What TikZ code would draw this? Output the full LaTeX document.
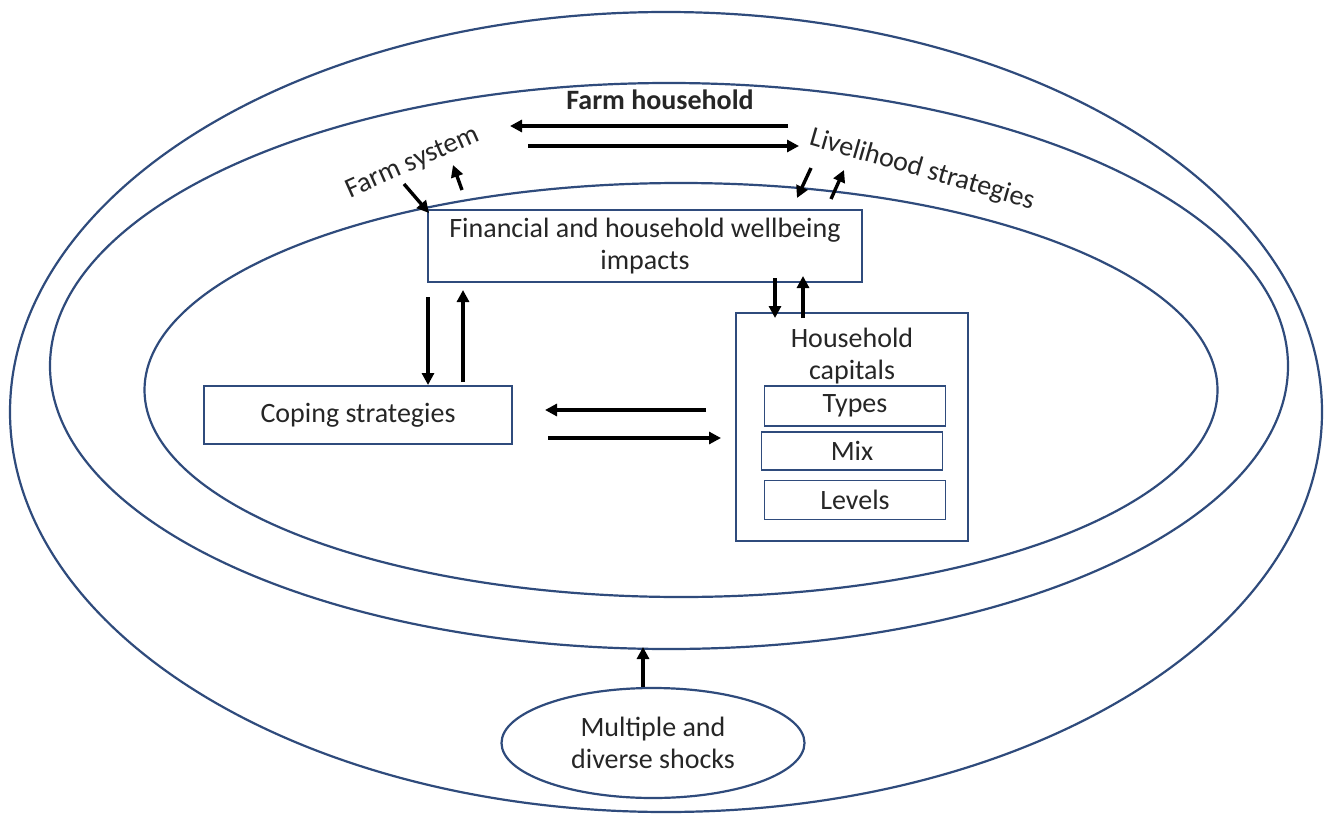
\documentclass[tikz,border=0pt]{standalone}
\usepackage{fontspec}
\setmainfont{Carlito}
\usetikzlibrary{arrows.meta,shapes.geometric}
\definecolor{ring}{HTML}{2F4B7C}
\definecolor{txt}{HTML}{262626}
\begin{document}
\begin{tikzpicture}[x=1pt,y=-1pt,
  ringline/.style={draw=ring,line width=2.2pt,ellipse,inner sep=0pt},
  boxline/.style={draw=ring,line width=1.8pt,rectangle,inner sep=0pt,text=txt,align=center},
  lbl/.style={text=txt,align=center,inner sep=0pt},
  arr/.style={line width=3.4pt,-{Triangle[length=12pt,width=12pt]}},
  every node/.style={font=\fontsize{28}{32}\selectfont}]
\useasboundingbox (0,0) rectangle (1330,816);
\fill[white] (0,0) rectangle (1330,816);
% rings
\node[ringline,minimum width=1312pt,minimum height=800pt] (outer) at (666,412) {};
\node[ringline,minimum width=1238pt,minimum height=566pt] (middle) at (669,366) {};
\node[ringline,minimum width=1073pt,minimum height=414pt] (inner) at (681,390) {};
\node[ringline,fill=white,minimum width=303pt,minimum height=110pt,lbl,text=txt] (shocks) at (653,743) {Multiple and\\diverse shocks};
% boxes
\node[boxline,minimum width=434pt,minimum height=72pt] (fin) at (645,246) {Financial and household wellbeing\\impacts};
\node[boxline,minimum width=308pt,minimum height=58pt] (cope) at (358,415) {Coping strategies};
\node[boxline,minimum width=232pt,minimum height=228pt] (hc) at (852,427) {};
\node[lbl] (hctext) at (852,356) {Household\\capitals};
\node[boxline,minimum width=181pt,minimum height=40pt] (types) at (855,406) {Types};
\node[boxline,minimum width=181pt,minimum height=38pt] (mix) at (852,451) {Mix};
\node[boxline,minimum width=181pt,minimum height=39pt] (levels) at (855,500) {Levels};
% labels
\node[lbl,font=\fontsize{28}{32}\selectfont\bfseries] (fh) at (660,100) {Farm household};
\node[lbl,rotate=24] (fs) at (413,163) {Farm system};
\node[lbl,rotate=-16] (ls) at (922,170) {Livelihood strategies};
% top arrows
\coordinate (t1a) at (788,126); \coordinate (t1b) at (510,126);
\coordinate (t2a) at (528,146); \coordinate (t2b) at (799,146);
\draw[arr] (t1a) -- (t1b);
\draw[arr] (t2a) -- (t2b);
% farm system arrows
\coordinate (fsa) at (404,184); \coordinate (fsb) at (429,213);
\coordinate (fsc) at (462,190); \coordinate (fsd) at (453,165);
\draw[arr] (fsa) -- (fsb);
\draw[arr] (fsc) -- (fsd);
% livelihood arrows
\coordinate (lsa) at (811,168); \coordinate (lsb) at (797,198);
\coordinate (lsc) at (831,199); \coordinate (lsd) at (844,170);
\draw[arr] (lsa) -- (lsb);
\draw[arr] (lsc) -- (lsd);
% fin <-> hc
\coordinate (fh1a) at (775,278); \coordinate (fh1b) at (775,318);
\coordinate (fh2a) at (803,318); \coordinate (fh2b) at (803,276);
\draw[arr] (fh1a) -- (fh1b);
\draw[arr] (fh2a) -- (fh2b);
% fin <-> cope
\coordinate (fc1a) at (428,297); \coordinate (fc1b) at (428,385);
\coordinate (fc2a) at (463,382); \coordinate (fc2b) at (463,290);
\draw[arr] (fc1a) -- (fc1b);
\draw[arr] (fc2a) -- (fc2b);
% cope <-> hc
\coordinate (ch1a) at (706,410); \coordinate (ch1b) at (545,410);
\coordinate (ch2a) at (548,438); \coordinate (ch2b) at (721,438);
\draw[arr] (ch1a) -- (ch1b);
\draw[arr] (ch2a) -- (ch2b);
% shocks
\coordinate (sh) at (643,647);
\draw[arr] (shocks.north -| sh) -- (sh);
\end{tikzpicture}
\end{document}
